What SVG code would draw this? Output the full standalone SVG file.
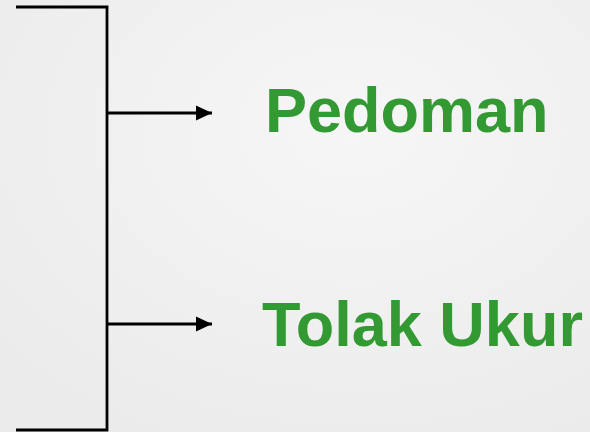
<svg xmlns="http://www.w3.org/2000/svg" width="590" height="432" viewBox="0 0 590 432">
<defs>
<radialGradient id="bg" cx="0.6" cy="0.3" r="0.8">
<stop offset="0" stop-color="#f6f6f6"/>
<stop offset="1" stop-color="#ebebeb"/>
</radialGradient>
<marker id="arr" markerWidth="16" markerHeight="16" refX="16" refY="8" orient="auto" markerUnits="userSpaceOnUse">
<path d="M0,0.5 L16,8 L0,15.5 Z" fill="#000"/>
</marker>
<style>
.ln{stroke:#000;stroke-width:2.8;fill:none}
.lbl{font-family:"Liberation Sans",Arial,sans-serif;font-weight:bold;font-size:63px;fill:#339933}
</style>
</defs>
<rect width="590" height="432" fill="url(#bg)"/>
<g id="connectors">
<path class="ln" d="M16,7 H107 V430 H16"/>
<line class="ln" x1="107" y1="113" x2="212" y2="113" marker-end="url(#arr)"/>
<line class="ln" x1="107" y1="324" x2="212" y2="324" marker-end="url(#arr)"/>
</g>
<g id="pedoman"><text class="lbl" x="265" y="132">Pedoman</text></g>
<g id="tolak-ukur"><text class="lbl" x="262" y="346">Tolak Ukur</text></g>
</svg>
